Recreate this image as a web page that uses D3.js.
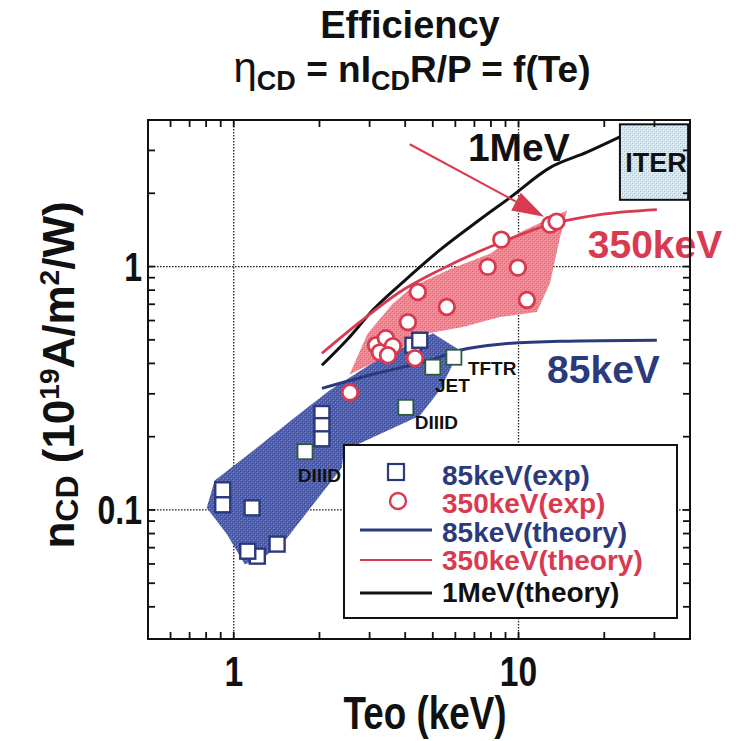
<!DOCTYPE html>
<html>
<head>
<meta charset="utf-8">
<script src="https://cdn.jsdelivr.net/npm/d3@7"></script>
<style>
  html, body { margin: 0; padding: 0; background: #fff; }
  svg { display: block; }
</style>
</head>
<body>
<svg id="chart" width="736" height="741"></svg>
<script>
// ---------- data ----------
const xTickValues = [1, 10];
const xTickLabels = ["1", "10"];
const yTickValues = [0.1, 1];
const yTickLabels = ["0.1", "1"];
const xMinorTicks = [0.6, 0.7, 0.8, 0.9, 2, 3, 4, 5, 6, 7, 8, 9, 20, 30];
const yMinorTicks = [0.04, 0.05, 0.06, 0.07, 0.08, 0.09, 0.2, 0.3, 0.4, 0.5, 0.6, 0.7, 0.8, 0.9, 2, 3];

// 85 keV beam, experimental points [Te (keV), eta]
const exp85 = [
  [0.915, 0.121], [0.915, 0.105], [1.16, 0.102], [1.21, 0.0646], [1.12, 0.0677],
  [1.42, 0.0724], [2.04, 0.249], [2.04, 0.222], [2.04, 0.196], [4.26, 0.475], [4.50, 0.498]
];
// 85 keV points from named devices
const exp85Devices = [
  [1.78, 0.1735], [4.02, 0.264], [5.0, 0.386], [5.93, 0.424]
];
// 350 keV beam, experimental points
const exp350 = [
  [2.56, 0.304], [3.16, 0.475], [3.42, 0.508], [3.26, 0.444], [3.62, 0.471],
  [3.48, 0.432], [4.09, 0.591], [4.43, 0.786], [4.33, 0.420], [5.6, 0.682],
  [7.8, 0.997], [8.7, 1.29], [9.95, 0.99], [10.7, 0.729], [12.9, 1.486], [13.6, 1.53]
];

// theory curves
const theory85 = [[2.04, 0.316], [3.26, 0.367], [4.88, 0.412], [6.22, 0.453], [8.6, 0.480], [14.0, 0.493], [30.6, 0.498]];
const theory350 = [[2.04, 0.44], [2.77, 0.591], [3.83, 0.786], [5.3, 0.969], [8.6, 1.252], [13.2, 1.50], [19.3, 1.635], [30.6, 1.714]];
const theory1MeV = [[2.04, 0.393], [2.5, 0.50], [3.08, 0.663], [4.0, 0.88], [5.3, 1.17], [7.32, 1.56], [9.33, 1.92], [12.9, 2.55], [17.4, 2.95], [22.6, 3.40]];

// shaded experimental ranges
const band85 = [
  [0.804, 0.102], [0.857, 0.132], [1.205, 0.180], [1.706, 0.249], [2.175, 0.310],
  [3.18, 0.412], [5.0, 0.5325], [6.22, 0.453], [5.29, 0.310], [4.5, 0.244],
  [2.435, 0.175], [2.396, 0.149], [1.536, 0.0766], [1.254, 0.0628], [1.093, 0.0598], [0.945, 0.0796]
];
const band350 = [
  [2.55, 0.36], [2.95, 0.53], [3.6, 0.70], [4.26, 0.83], [5.74, 0.975], [7.94, 1.13],
  [10.1, 1.38], [12.6, 1.56], [14.8, 1.70], [14.0, 1.326], [12.9, 0.856],
  [11.6, 0.650], [8.6, 0.620], [6.38, 0.564], [4.88, 0.533], [3.68, 0.444]
];

// ITER operating window [Te range], [eta range]
const iterTe = [22.7, 39.4];
const iterEta = [1.88, 3.84];

// arrow pointing to the 350 keV high-Te points
const arrow350 = [[4.15, 3.18], [12.3, 1.60]];

// device names next to their points
const deviceNames = ["TFTR", "JET", "DIIID", "DIIID"];
const deviceNamePos = [[6.64, 0.357], [5.09, 0.304], [4.32, 0.216], [1.678, 0.1305]];

// curve names
const curveNames = ["1MeV", "350keV", "85keV"];
const curveNamePos = [[6.64, 2.71], [17.5, 1.086], [12.6, 0.331]];

const legendLabels = ["85keV(exp)", "350keV(exp)", "85keV(theory)", "350keV(theory)", "1MeV(theory)"];

// ---------- style ----------
const FONT = "'Liberation Sans', Arial, Helvetica, sans-serif";
const NAVY = "#2b3a7c";
const RED = "#d93a4f";
const GREEN = "#2e5a3e";

const svg = d3.select("#chart");
const defs = svg.append("defs");

function stipple(id, base, light, dark, size) {
  const p = defs.append("pattern").attr("id", id)
    .attr("width", size).attr("height", size).attr("patternUnits", "userSpaceOnUse");
  p.append("rect").attr("width", size).attr("height", size).attr("fill", base);
  p.append("rect").attr("x", 1).attr("y", 0).attr("width", 1).attr("height", 1).attr("fill", light);
  p.append("rect").attr("x", 3).attr("y", 2).attr("width", 1).attr("height", 1).attr("fill", light);
  p.append("rect").attr("x", 0).attr("y", 3).attr("width", 1).attr("height", 1).attr("fill", dark);
  p.append("rect").attr("x", 2).attr("y", 1).attr("width", 1).attr("height", 1).attr("fill", dark);
}
stipple("stipBlue", "#4f5eab", "#7f8bc6", "#3e4b98", 4);
stipple("stipRed", "#ec8590", "#f3aab0", "#de6a77", 4);
stipple("stipIter", "#d3e6ef", "#f2f8fb", "#a9bfcc", 4);

// ---------- scales ----------
const x = d3.scaleLog().domain([0.5, 40]).range([148, 690]);
const y = d3.scaleLog().domain([0.0295, 4]).range([639, 120]);
const [x0, x1] = x.range();
const [y1, y0] = y.range();

const plot = svg.append("g");

// gridlines at the decades
plot.append("g").selectAll("line").data(xTickValues).join("line")
  .attr("x1", d => x(d)).attr("x2", d => x(d)).attr("y1", y0).attr("y2", y1)
  .attr("stroke", "#222").attr("stroke-width", 1.3).attr("stroke-dasharray", "1.6,1.4");
plot.append("g").selectAll("line").data(yTickValues).join("line")
  .attr("y1", d => y(d)).attr("y2", d => y(d)).attr("x1", x0).attr("x2", x1)
  .attr("stroke", "#222").attr("stroke-width", 1.3).attr("stroke-dasharray", "1.6,1.4");

// shaded ranges
const poly = pts => pts.map(p => [x(p[0]), y(p[1])].join(",")).join(" ");
plot.append("polygon").attr("points", poly(band85)).attr("fill", "url(#stipBlue)");
plot.append("polygon").attr("points", poly(band350)).attr("fill", "url(#stipRed)");

// theory curves
const line = d3.line().x(d => x(d[0])).y(d => y(d[1])).curve(d3.curveMonotoneX);
plot.append("path").attr("d", line(theory1MeV)).attr("fill", "none")
  .attr("stroke", "#111").attr("stroke-width", 3);
plot.append("path").attr("d", line(theory350)).attr("fill", "none")
  .attr("stroke", RED).attr("stroke-width", 2.8);
plot.append("path").attr("d", line(theory85)).attr("fill", "none")
  .attr("stroke", NAVY).attr("stroke-width", 3);

// arrow
{
  const [a, b] = arrow350.map(p => [x(p[0]), y(p[1])]);
  const dx = b[0] - a[0], dy = b[1] - a[1];
  const len = Math.hypot(dx, dy);
  const ux = dx / len, uy = dy / len;
  const headLen = 32, headHalf = 10;
  const bx = b[0] - ux * headLen, by = b[1] - uy * headLen;
  plot.append("line").attr("x1", a[0]).attr("y1", a[1]).attr("x2", bx).attr("y2", by)
    .attr("stroke", RED).attr("stroke-width", 2);
  plot.append("polygon")
    .attr("points", [[b[0], b[1]], [bx - uy * headHalf, by + ux * headHalf], [bx + uy * headHalf, by - ux * headHalf]].map(p => p.join(",")).join(" "))
    .attr("fill", RED);
}

// experimental points
const SQ = 15;
plot.append("g").selectAll("rect").data(exp85).join("rect")
  .attr("x", d => x(d[0]) - SQ / 2).attr("y", d => y(d[1]) - SQ / 2)
  .attr("width", SQ).attr("height", SQ)
  .attr("fill", "#fff").attr("stroke", NAVY).attr("stroke-width", 2.4);
plot.append("g").selectAll("rect").data(exp85Devices).join("rect")
  .attr("x", d => x(d[0]) - SQ / 2).attr("y", d => y(d[1]) - SQ / 2)
  .attr("width", SQ).attr("height", SQ)
  .attr("fill", "#fff").attr("stroke", GREEN).attr("stroke-width", 1.8);
plot.append("g").selectAll("circle").data(exp350).join("circle")
  .attr("cx", d => x(d[0])).attr("cy", d => y(d[1])).attr("r", 7.8)
  .attr("fill", "#fff").attr("stroke", RED).attr("stroke-width", 2.8);

// device names
plot.append("g").selectAll("text").data(deviceNames).join("text")
  .attr("x", (d, i) => x(deviceNamePos[i][0])).attr("y", (d, i) => y(deviceNamePos[i][1]))
  .attr("font-family", FONT).attr("font-weight", "bold").attr("font-size", 19)
  .attr("fill", "#111").text(d => d);

// ITER box
plot.append("rect")
  .attr("x", x(iterTe[0])).attr("y", y(iterEta[1]))
  .attr("width", x(iterTe[1]) - x(iterTe[0])).attr("height", y(iterEta[0]) - y(iterEta[1]))
  .attr("fill", "url(#stipIter)").attr("stroke", "#111").attr("stroke-width", 2);
plot.append("text")
  .attr("x", (x(iterTe[0]) + x(iterTe[1])) / 2 + 2)
  .attr("y", (y(iterEta[0]) + y(iterEta[1])) / 2 + 10)
  .attr("text-anchor", "middle").attr("font-family", FONT).attr("font-weight", "bold")
  .attr("font-size", 27).attr("fill", "#111").text("ITER");

// curve names
const curveColors = ["#111", RED, NAVY];
plot.append("g").selectAll("text").data(curveNames).join("text")
  .attr("x", (d, i) => x(curveNamePos[i][0])).attr("y", (d, i) => y(curveNamePos[i][1]))
  .attr("font-family", FONT).attr("font-weight", "bold").attr("font-size", 39)
  .attr("fill", (d, i) => curveColors[i]).text(d => d);

// legend
{
  const lg = svg.append("g");
  lg.append("rect").attr("x", 344).attr("y", 445).attr("width", 333).attr("height", 173)
    .attr("fill", "#fff").attr("stroke", "#111").attr("stroke-width", 2);
  const rowY = [472, 501, 530, 560, 593];
  const textY = [485, 513, 542, 570, 602];
  const colors = [NAVY, RED, NAVY, RED, "#111"];
  lg.append("rect").attr("x", 396 - 8).attr("y", rowY[0] - 8).attr("width", 16).attr("height", 16)
    .attr("fill", "#fff").attr("stroke", NAVY).attr("stroke-width", 2.2);
  lg.append("circle").attr("cx", 398).attr("cy", rowY[1]).attr("r", 8)
    .attr("fill", "#fff").attr("stroke", RED).attr("stroke-width", 2.4);
  [[2, NAVY, 3], [3, RED, 2.2], [4, "#111", 3.2]].forEach(([i, c, w]) => {
    lg.append("line").attr("x1", 360).attr("x2", 432).attr("y1", rowY[i]).attr("y2", rowY[i])
      .attr("stroke", c).attr("stroke-width", w);
  });
  lg.selectAll("text.lab").data(legendLabels).join("text").attr("class", "lab")
    .attr("x", 442).attr("y", (d, i) => textY[i])
    .attr("font-family", FONT).attr("font-weight", "bold").attr("font-size", 28)
    .attr("fill", (d, i) => colors[i]).text(d => d);
}

// frame and inward ticks
const ax = svg.append("g");
ax.append("rect").attr("x", x0).attr("y", y0).attr("width", x1 - x0).attr("height", y1 - y0)
  .attr("fill", "none").attr("stroke", "#111").attr("stroke-width", 2);
const TL = 7;
const allX = xMinorTicks.concat(xTickValues);
const allY = yMinorTicks.concat(yTickValues);
ax.append("g").selectAll("line").data(allX).join("line")
  .attr("x1", d => x(d)).attr("x2", d => x(d)).attr("y1", y1).attr("y2", y1 - TL)
  .attr("stroke", "#111").attr("stroke-width", 1.8);
ax.append("g").selectAll("line").data(allX).join("line")
  .attr("x1", d => x(d)).attr("x2", d => x(d)).attr("y1", y0).attr("y2", y0 + TL)
  .attr("stroke", "#111").attr("stroke-width", 1.8);
ax.append("g").selectAll("line").data(allY).join("line")
  .attr("y1", d => y(d)).attr("y2", d => y(d)).attr("x1", x0).attr("x2", x0 + TL)
  .attr("stroke", "#111").attr("stroke-width", 1.8);
ax.append("g").selectAll("line").data(allY).join("line")
  .attr("y1", d => y(d)).attr("y2", d => y(d)).attr("x1", x1).attr("x2", x1 - TL)
  .attr("stroke", "#111").attr("stroke-width", 1.8);

// tick labels (condensed bold)
const COND = 0.8;
ax.append("g").selectAll("text").data(xTickValues).join("text")
  .attr("transform", d => `translate(${x(d)},686) scale(${COND},1)`)
  .attr("text-anchor", "middle").attr("font-family", FONT).attr("font-weight", "bold")
  .attr("font-size", 42).attr("fill", "#111").text((d, i) => xTickLabels[i]);
ax.append("g").selectAll("text").data(yTickValues).join("text")
  .attr("transform", d => `translate(142,${y(d) + 14}) scale(${COND},1)`)
  .attr("text-anchor", "end").attr("font-family", FONT).attr("font-weight", "bold")
  .attr("font-size", 40).attr("fill", "#111").text((d, i) => yTickLabels[i]);

// axis titles
svg.append("text")
  .attr("transform", `translate(${(x0 + x1) / 2 + 6},729) scale(${COND},1)`)
  .attr("text-anchor", "middle").attr("font-family", FONT).attr("font-weight", "bold")
  .attr("font-size", 46).attr("fill", "#111").text("Teo (keV)");

{
  const t = svg.append("text")
    .attr("transform", `translate(74,375) rotate(-90)`)
    .attr("text-anchor", "middle").attr("font-family", FONT).attr("font-weight", "bold")
    .attr("font-size", 44).attr("fill", "#111");
  t.append("tspan").text("n");
  t.append("tspan").attr("font-size", 32).attr("dy", 4).text("CD");
  t.append("tspan").attr("dy", -4).text(" (10");
  t.append("tspan").attr("font-size", 28).attr("dy", -15).text("19");
  t.append("tspan").attr("dy", 15).text("A/m");
  t.append("tspan").attr("font-size", 28).attr("dy", -15).text("2");
  t.append("tspan").attr("dy", 15).text("/W)");
}

// title
svg.append("text").attr("x", 410).attr("y", 38).attr("text-anchor", "middle")
  .attr("font-family", FONT).attr("font-weight", "bold").attr("font-size", 38)
  .attr("fill", "#111").text("Efficiency");
{
  const t = svg.append("text").attr("x", 412).attr("y", 82).attr("text-anchor", "middle")
    .attr("font-family", FONT).attr("font-weight", "bold").attr("font-size", 37).attr("fill", "#111");
  t.append("tspan").attr("font-weight", "normal").attr("font-size", 42).text("η");
  t.append("tspan").attr("font-size", 27).attr("dy", 8).text("CD");
  t.append("tspan").attr("dy", -8).text(" = nI");
  t.append("tspan").attr("font-size", 27).attr("dy", 8).text("CD");
  t.append("tspan").attr("dy", -8).text("R/P = f(Te)");
}
</script>
</body>
</html>
